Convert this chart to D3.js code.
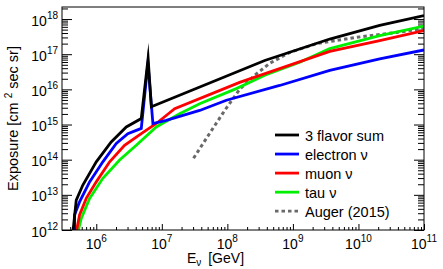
<!DOCTYPE html>
<html>
<head>
<meta charset="utf-8">
<script src="https://cdn.jsdelivr.net/npm/d3@7"></script>
<style>
  body { margin: 0; background: #fff; }
  text { font-family: "Liberation Sans", Arial, sans-serif; fill: #000; }
</style>
</head>
<body>
<svg id="chart" width="443" height="269"></svg>
<script>
// [energy GeV, exposure cm2 sec sr]
const flavorSum = [[4.40e5, 8.7e11], [4.95e5, 7.1e12], [6.24e5, 1.9e13], [1.00e6, 8.7e13],
  [1.69e6, 3.2e14], [2.87e6, 8.5e14], [4.86e6, 1.48e15], [6.18e6, 7.6e16], [6.92e6, 3.2e15],
  [3.72e8, 6.6e16], [3.65e9, 2.7e17], [2.11e10, 6.6e17], [1.0e11, 1.26e18]];
const electronNu = [[4.67e5, 8.7e11], [4.67e5, 2.7e12], [5.56e5, 6.3e12], [7.91e5, 2.34e13],
  [1.26e6, 8.7e13], [2.02e6, 2.88e14], [3.03e6, 5.5e14], [4.86e6, 7.76e14], [6.14e6, 5.5e16],
  [7.31e6, 1.07e15], [1.17e7, 1.32e15], [3.78e7, 2.51e15], [9.66e7, 4.9e15], [6.28e8, 1.29e16],
  [3.65e9, 3.47e16], [2.11e10, 7.41e16], [1.0e11, 1.32e17]];
const muonNu = [[4.95e5, 8.7e11], [5.56e5, 2.69e12], [7.03e5, 7.94e12], [1.00e6, 2.34e13],
  [1.60e6, 8.7e13], [2.70e6, 2.57e14], [4.86e6, 5.5e14], [8.24e6, 1.07e15], [1.57e7, 2.82e15],
  [1.54e8, 1.58e16], [3.65e9, 1.20e17], [2.11e10, 2.45e17], [1.0e11, 4.68e17]];
const tauNu = [[5.24e5, 8.7e11], [5.90e5, 2.14e12], [7.91e5, 7.94e12], [1.26e6, 2.95e13],
  [2.27e6, 9.77e13], [4.08e6, 2.57e14], [8.24e6, 8.51e14], [1.87e7, 2.04e15], [3.78e7, 3.89e15],
  [1.37e8, 1.05e16], [3.72e8, 2.51e16], [1.27e9, 5.89e16], [3.65e9, 1.45e17], [2.11e10, 3.39e17],
  [1.0e11, 6.31e17]];
const auger2015 = [[3.05e7, 1.10e14], [5.37e7, 5.62e14], [9.10e7, 2.51e15], [1.54e8, 1.0e16],
  [2.61e8, 2.51e16], [4.43e8, 5.5e16], [8.93e8, 1.12e17], [2.31e9, 2.0e17], [9.42e9, 3.02e17],
  [3.85e10, 4.17e17], [1.0e11, 5.37e17]];

const xDecades = [6, 7, 8, 9, 10, 11];
const yDecades = [12, 13, 14, 15, 16, 17, 18];

const series = [
  { name: "3 flavor sum", data: flavorSum, color: "#000000", dash: null },
  { name: "electron \u03bd", data: electronNu, color: "#0000ff", dash: null },
  { name: "muon \u03bd", data: muonNu, color: "#ff0000", dash: null },
  { name: "tau \u03bd", data: tauNu, color: "#00ee00", dash: null },
  { name: "Auger (2015)", data: auger2015, color: "#696969", dash: "3.5,3" }
];

const m = { left: 62, right: 424, top: 7, bottom: 230 };
const svg = d3.select("#chart");

const x = d3.scaleLog().domain([3e5, 1e11]).range([m.left, m.right]);
const y = d3.scaleLog().domain([1e12, 2.2e18]).range([m.bottom, m.top]);

// minor ticks 2..9 per decade
function minors(scale) {
  const [a, b] = scale.domain();
  const out = [];
  for (let e = Math.floor(Math.log10(a)); e <= Math.ceil(Math.log10(b)); e++) {
    for (let k = 2; k <= 9; k++) {
      const v = k * Math.pow(10, e);
      if (v > a && v < b) out.push(v);
    }
  }
  return out;
}

svg.append("clipPath").attr("id", "plot")
  .append("rect").attr("x", m.left).attr("y", m.top)
  .attr("width", m.right - m.left).attr("height", m.bottom - m.top);

// ticks, pointing inward
function tickLayer(axis, tx, ty) {
  const g = svg.append("g").attr("transform", `translate(${tx},${ty})`).call(axis);
  g.select(".domain").remove();
  g.selectAll("line").attr("stroke", "#000").attr("stroke-width", 1);
}
const xMaj = xDecades.map(d => Math.pow(10, d));
const yMaj = yDecades.map(d => Math.pow(10, d));

tickLayer(d3.axisBottom(x).tickValues(xMaj).tickSize(-6).tickFormat(""), 0, m.bottom);
tickLayer(d3.axisBottom(x).tickValues(minors(x)).tickSize(-3).tickFormat(""), 0, m.bottom);
tickLayer(d3.axisLeft(y).tickValues(yMaj).tickSize(-10).tickFormat(""), m.left, 0);
tickLayer(d3.axisLeft(y).tickValues(minors(y)).tickSize(-6).tickFormat(""), m.left, 0);
tickLayer(d3.axisRight(y).tickValues(yMaj).tickSize(-10).tickFormat(""), m.right, 0);
tickLayer(d3.axisRight(y).tickValues(minors(y)).tickSize(-6).tickFormat(""), m.right, 0);

// curves
const line = d3.line().x(d => x(d[0])).y(d => y(d[1]));
svg.append("g").attr("clip-path", "url(#plot)")
  .selectAll("path").data(series.slice().reverse()).join("path")
  .attr("d", d => line(d.data))
  .attr("fill", "none")
  .attr("stroke", d => d.color)
  .attr("stroke-width", d => d.dash ? 3 : 2.8)
  .attr("stroke-dasharray", d => d.dash)
  .attr("stroke-linejoin", "miter")
  .attr("stroke-miterlimit", 20);

// frame
svg.append("rect").attr("x", m.left).attr("y", m.top)
  .attr("width", m.right - m.left).attr("height", m.bottom - m.top)
  .attr("fill", "none").attr("stroke", "#000").attr("stroke-width", 1);

// tick labels with superscript exponents
const yl = svg.append("g").selectAll("text").data(yDecades).join("text")
  .attr("x", m.left - 4).attr("y", d => y(Math.pow(10, d)) + 6.5)
  .attr("text-anchor", "end").style("font-size", "14px");
yl.append("tspan").text("10");
yl.append("tspan").attr("dy", -6.5).style("font-size", "10px").text(d => d);

const xl = svg.append("g").selectAll("text").data(xDecades).join("text")
  .attr("x", d => x(Math.pow(10, d))).attr("y", 248.5)
  .attr("text-anchor", "middle").style("font-size", "14px");
xl.append("tspan").text("10");
xl.append("tspan").attr("dy", -6.5).style("font-size", "10px").text(d => d);

// axis titles
const xt = svg.append("text").attr("x", 187).attr("y", 263).style("font-size", "14px");
xt.append("tspan").text("E");
xt.append("tspan").attr("dy", 3).style("font-size", "10px").text("\u03bd");
xt.append("tspan").attr("dy", -3).attr("dx", 3).text(" [GeV]");

const yt = svg.append("text")
  .attr("transform", `translate(18,${(m.top + m.bottom) / 2}) rotate(-90)`)
  .attr("text-anchor", "middle").style("font-size", "14.5px");
yt.append("tspan").text("Exposure [cm ");
yt.append("tspan").attr("dy", -6).style("font-size", "10px").text("2");
yt.append("tspan").attr("dy", 6).text(" sec sr]");

// legend
const lg = svg.append("g").selectAll("g").data(series).join("g")
  .attr("transform", (d, i) => `translate(275,${135 + i * 19.05})`);
lg.append("line").attr("x1", 0).attr("x2", 24)
  .attr("stroke", d => d.color).attr("stroke-width", 2.8)
  .attr("stroke-dasharray", d => d.dash);
lg.append("text").attr("x", 30).attr("y", 5.5).style("font-size", "14.5px").text(d => d.name);
</script>
</body>
</html>
